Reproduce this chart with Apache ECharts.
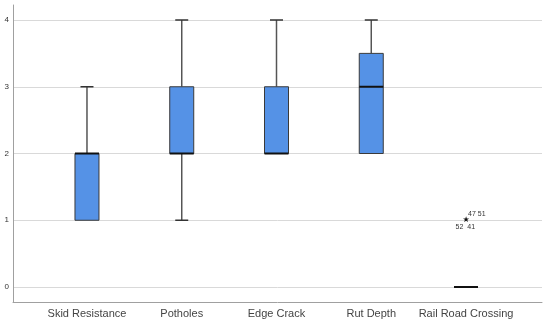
<!DOCTYPE html>
<html><head><meta charset="utf-8">
<script src="https://cdn.jsdelivr.net/npm/echarts@6/dist/echarts.min.js"></script>
<style>html,body{margin:0;padding:0;background:#fff}#c{width:550px;height:322px}</style>
</head><body><div id="c"></div>
<script>
const categories = ['Skid Resistance', 'Potholes', 'Edge Crack', 'Rut Depth', 'Rail Road Crossing'];
const mins    = [1, 1, 2, 2, 0];
const q1s     = [1, 2, 2, 2, 0];
const medians = [2, 2, 2, 3, 0];
const q3s     = [2, 3, 3, 3.5, 0];
const maxs    = [3, 4, 4, 4, 0];
const yTicks  = [0, 1, 2, 3, 4];
// outliers: [categoryIndex, value, ids above-right, ids below-left]
const outlierCat = [4];
const outlierVal = [1];
const outlierIdsUp = ['47 51'];
const outlierIdsDown = ['52  41'];

const boxData = categories.map((c, i) => [i, mins[i], q1s[i], medians[i], q3s[i], maxs[i]]);
const outData = outlierCat.map((c, i) => [c, outlierVal[i], outlierIdsUp[i], outlierIdsDown[i]]);

const BOX_W = 24, CAP_W = 13;
const chart = echarts.init(document.getElementById('c'), null, {renderer: 'canvas'});
chart.setOption({
  animation: false,
  backgroundColor: '#fff',
  grid: [
    {left: 13, right: 8, top: 5, bottom: 20},
    {left: 13, right: 8, top: 20, bottom: 35},
    {left: 39.6, right: 36.6, top: 20, bottom: 35}
  ],
  xAxis: [
    {gridIndex: 0, type: 'value', min: 0, max: 1, axisLine: {show: true, lineStyle: {color: '#a0a0a0', width: 1}}, axisTick: {show: false}, axisLabel: {show: false}, splitLine: {show: false}},
    {gridIndex: 1, type: 'value', min: 0, max: 1, show: false},
    {gridIndex: 2, type: 'category', data: categories, boundaryGap: true,
     axisLine: {show: false}, axisTick: {show: false},
     axisLabel: {margin: 21, color: '#444', fontSize: 11, fontFamily: 'Liberation Sans, Arial, sans-serif', interval: 0}}
  ],
  yAxis: [
    {gridIndex: 0, type: 'value', min: 0, max: 1, axisLine: {show: true, lineStyle: {color: '#a0a0a0', width: 1}}, axisTick: {show: false}, axisLabel: {show: false}, splitLine: {show: false}},
    {gridIndex: 1, type: 'value', min: yTicks[0], max: yTicks[yTicks.length - 1], interval: 1,
     axisLine: {show: false}, axisTick: {show: false},
     axisLabel: {margin: 4, color: '#333', fontSize: 8, fontFamily: 'Liberation Sans, Arial, sans-serif'},
     splitLine: {show: true, lineStyle: {color: '#d9d9d9', width: 1}}},
    {gridIndex: 2, type: 'value', min: yTicks[0], max: yTicks[yTicks.length - 1], show: false}
  ],
  series: [
    {
      type: 'custom', xAxisIndex: 2, yAxisIndex: 2, data: boxData, clip: false,
      renderItem: function (params, api) {
        const i = api.value(0);
        const pMin = api.coord([i, api.value(1)]);
        const pQ1 = api.coord([i, api.value(2)]);
        const pMed = api.coord([i, api.value(3)]);
        const pQ3 = api.coord([i, api.value(4)]);
        const pMax = api.coord([i, api.value(5)]);
        const x = pMed[0];
        const children = [];
        const wStyle = {stroke: '#555', lineWidth: 1.5};
        if (pMax[1] < pQ3[1]) {
          children.push({type: 'line', shape: {x1: x, y1: pMax[1], x2: x, y2: pQ3[1]}, style: wStyle});
          children.push({type: 'line', shape: {x1: x - CAP_W / 2, y1: pMax[1], x2: x + CAP_W / 2, y2: pMax[1]}, style: {stroke: '#333', lineWidth: 1.5}});
        }
        if (pMin[1] > pQ1[1]) {
          children.push({type: 'line', shape: {x1: x, y1: pQ1[1], x2: x, y2: pMin[1]}, style: wStyle});
          children.push({type: 'line', shape: {x1: x - CAP_W / 2, y1: pMin[1], x2: x + CAP_W / 2, y2: pMin[1]}, style: {stroke: '#333', lineWidth: 1.5}});
        }
        if (pQ1[1] - pQ3[1] > 0.5) {
          children.push({type: 'rect', shape: {x: x - BOX_W / 2, y: pQ3[1], width: BOX_W, height: pQ1[1] - pQ3[1]},
            style: {fill: '#5592e6', stroke: '#3a3a3a', lineWidth: 1}});
        }
        children.push({type: 'line', shape: {x1: x - BOX_W / 2, y1: pMed[1], x2: x + BOX_W / 2, y2: pMed[1]}, style: {stroke: '#111', lineWidth: 2}});
        return {type: 'group', children: children};
      }
    },
    {
      type: 'custom', xAxisIndex: 2, yAxisIndex: 2, data: outData, clip: false,
      renderItem: function (params, api) {
        const p = api.coord([api.value(0), api.value(1)]);
        const up = outData[params.dataIndex][2];
        const down = outData[params.dataIndex][3];
        return {type: 'group', children: [
          {type: 'text', x: p[0], y: p[1], style: {text: '★', fill: '#111', font: '8px DejaVu Sans', align: 'center', verticalAlign: 'middle'}},
          {type: 'text', x: p[0] + 2, y: p[1] - 3, style: {text: up, fill: '#333', font: '7px Liberation Sans', align: 'left', verticalAlign: 'bottom'}},
          {type: 'text', x: p[0] + 9, y: p[1] + 3, style: {text: down, fill: '#333', font: '7px Liberation Sans', align: 'right', verticalAlign: 'top'}}
        ]};
      }
    }
  ]
});
</script>
</body></html>
